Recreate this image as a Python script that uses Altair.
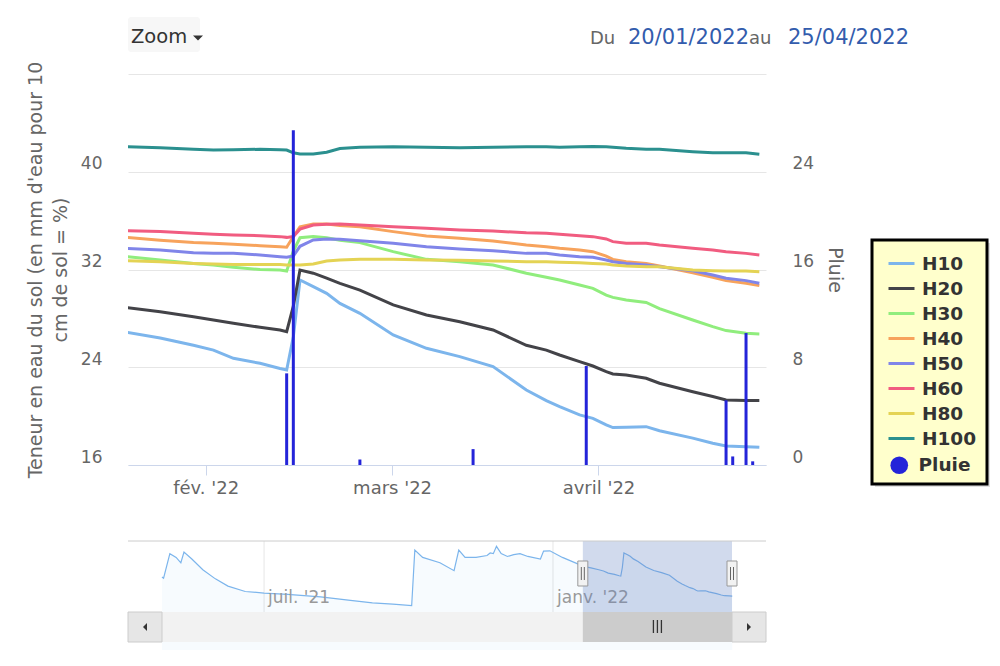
import json
import altair as alt
import pandas as pd

# ---------------- data ----------------
SERIES = ["H10", "H20", "H30", "H40", "H50", "H60", "H80", "H100"]
COLORS = ["#7cb5ec", "#434348", "#90ed7d", "#f7a35c", "#8085e9", "#f15c80", "#e4d354", "#2b908f"]
RAIN_NAME = "Pluie"
RAIN_COLOR = "#2424d9"

dates = ["2022-01-20", "2022-01-25", "2022-01-30", "2022-02-02", "2022-02-05", "2022-02-09",
         "2022-02-12", "2022-02-13", "2022-02-14", "2022-02-15", "2022-02-17", "2022-02-19",
         "2022-02-21", "2022-02-24", "2022-03-01", "2022-03-06", "2022-03-11", "2022-03-16",
         "2022-03-21", "2022-03-24", "2022-03-26", "2022-03-29", "2022-03-31", "2022-04-02",
         "2022-04-03", "2022-04-05", "2022-04-08", "2022-04-10", "2022-04-15", "2022-04-18",
         "2022-04-20", "2022-04-23", "2022-04-25"]

H10 = [26.86, 26.4, 25.8, 25.4, 24.73, 24.32, 23.9, 23.78, 26.5, 31.14, 30.6, 30.05,
       29.23, 28.41, 26.64, 25.55, 24.87, 24.05, 22.14, 21.27, 20.78, 20.1, 19.82, 19.28,
       19.06, 19.09, 19.14, 18.8, 18.2, 17.78, 17.56, 17.5, 17.45]
H20 = [28.88, 28.55, 28.14, 27.87, 27.6, 27.27, 27.05, 26.91, 29.0, 31.96, 31.7, 31.3,
       30.87, 30.32, 29.1, 28.28, 27.73, 27.05, 25.8, 25.4, 25.0, 24.46, 24.1, 23.64,
       23.45, 23.37, 23.1, 22.69, 22.0, 21.6, 21.32, 21.27, 21.27]
H30 = [33.05, 32.78, 32.5, 32.37, 32.18, 32.0, 31.96, 31.88, 33.5, 34.6, 34.7, 34.6,
       34.4, 34.2, 33.46, 32.83, 32.64, 32.37, 31.7, 31.36, 31.14, 30.73, 30.46, 29.9,
       29.72, 29.5, 29.3, 28.8, 27.87, 27.32, 27.0, 26.78, 26.73]
H40 = [34.63, 34.4, 34.2, 34.14, 34.06, 33.95, 33.87, 33.82, 34.7, 35.5, 35.72, 35.72,
       35.6, 35.5, 35.1, 34.74, 34.55, 34.33, 34.0, 33.87, 33.73, 33.6, 33.46, 33.1,
       32.83, 32.64, 32.5, 32.28, 31.74, 31.36, 31.09, 30.87, 30.68]
H50 = [33.73, 33.6, 33.38, 33.32, 33.32, 33.19, 33.05, 33.0, 33.1, 33.9, 34.42, 34.5,
       34.47, 34.36, 34.14, 33.87, 33.68, 33.54, 33.32, 33.32, 33.19, 33.05, 33.0, 32.78,
       32.64, 32.5, 32.37, 32.23, 31.9, 31.55, 31.28, 31.09, 30.87]
H60 = [35.18, 35.1, 34.96, 34.88, 34.83, 34.77, 34.69, 34.63, 34.7, 35.3, 35.64, 35.7,
       35.72, 35.64, 35.5, 35.37, 35.23, 35.15, 35.0, 34.96, 34.88, 34.77, 34.69, 34.5,
       34.28, 34.14, 34.14, 34.0, 33.73, 33.6, 33.46, 33.32, 33.19]
H80 = [32.72, 32.64, 32.5, 32.45, 32.4, 32.4, 32.4, 32.37, 32.37, 32.37, 32.45, 32.7,
       32.78, 32.83, 32.83, 32.78, 32.75, 32.7, 32.64, 32.64, 32.6, 32.56, 32.5, 32.45,
       32.37, 32.28, 32.23, 32.23, 31.96, 31.9, 31.88, 31.88, 31.82]
H100 = [42.05, 41.97, 41.84, 41.78, 41.8, 41.84, 41.8, 41.78, 41.55, 41.45, 41.45, 41.6,
        41.9, 42.0, 42.05, 42.0, 41.97, 42.0, 42.05, 42.05, 42.0, 42.05, 42.07, 42.05,
        42.0, 41.92, 41.84, 41.84, 41.64, 41.55, 41.55, 41.55, 41.43]

rain_dates = ["2022-02-13", "2022-02-14", "2022-02-24", "2022-03-13", "2022-03-30",
              "2022-04-20", "2022-04-21", "2022-04-23", "2022-04-24"]
rain_mm = [7.5, 27.4, 0.45, 1.3, 8.1, 5.3, 0.7, 10.8, 0.3]

# navigator (H10 over the whole record, before the zoomed window)
nav_dates = ["2021-04-27", "2021-04-28", "2021-05-02", "2021-05-06", "2021-05-09", "2021-05-11",
             "2021-05-16", "2021-05-23", "2021-05-31", "2021-06-08", "2021-06-19", "2021-07-01",
             "2021-07-16", "2021-08-06", "2021-08-25", "2021-09-08", "2021-09-21", "2021-10-03",
             "2021-10-05", "2021-10-10", "2021-10-21", "2021-10-30", "2021-11-02", "2021-11-06",
             "2021-11-13", "2021-11-20", "2021-11-22", "2021-11-24", "2021-11-26", "2021-11-29",
             "2021-12-03", "2021-12-07", "2021-12-11", "2021-12-16", "2021-12-24", "2021-12-26",
             "2021-12-30", "2022-01-07", "2022-01-16"]
nav_h10 = [23.5, 23.1, 30.9, 29.7, 28.0, 31.4, 29.2, 25.8, 22.9, 20.6, 18.9, 18.4,
           18.0, 17.2, 16.1, 15.3, 14.9, 14.4, 32.0, 29.7, 28.0, 25.5, 32.0, 29.7,
           29.7, 30.3, 31.1, 30.9, 33.2, 30.9, 30.0, 30.6, 30.9, 30.0, 29.2, 31.7,
           31.8, 29.7, 27.8]

x_ticks = ["2022-02-01", "2022-03-01", "2022-04-01"]
month_names = ["janv.", "fév.", "mars", "avril", "mai", "juin", "juil.", "août",
               "sept.", "oct.", "nov.", "déc."]
nav_ticks = ["2021-07-01", "2022-01-01"]
nav_tick_labels = ["juil. '21", "janv. '22"]
sel_start, sel_end = "2022-01-20", "2022-04-25"
left_ticks = [16, 24, 32, 40, 48]
right_ticks = [0, 8, 16, 24, 32]

FONT = "DejaVu Sans"
TXT = "#666666"


def dt(s, h=0):
    y, m, d = (int(p) for p in s.split("-"))
    return alt.DateTime(year=y, month=m, date=d, hours=h)


# ---------------- tables ----------------
rows = []
for name, vals in zip(SERIES, [H10, H20, H30, H40, H50, H60, H80, H100]):
    for d, v in zip(dates, vals):
        rows.append({"date": d + "T04:00:00", "series": name, "value": v})
lines_df = pd.DataFrame(rows)
rain_df = pd.DataFrame({"date": [d + "T04:00:00" for d in rain_dates], "mm": rain_mm,
                        "series": RAIN_NAME})
nav_df = pd.DataFrame({"date": [d + "T00:00:00" for d in nav_dates] + [d + "T04:00:00" for d in dates],
                       "value": nav_h10 + H10})
navtick_df = pd.DataFrame({"date": nav_ticks, "label": nav_tick_labels})
sel_df = pd.DataFrame({"start": [sel_start], "end": [sel_end]})
t0 = pd.Timestamp(sel_start)
t1 = pd.Timestamp(sel_end)
mid = (t0 + (t1 - t0) / 2).strftime("%Y-%m-%dT%H:%M:%S")
handles_df = pd.DataFrame({"date": [sel_start, sel_end]})
thumbmid_df = pd.DataFrame({"date": [mid]})
ONE = pd.DataFrame({"a": [0]})

# ---------------- scales / axes ----------------
x_scale = alt.Scale(domain=[dt("2022-01-20", 8), dt("2022-04-26", 4)], nice=False, padding=0)
label_expr = json.dumps(month_names) + "[month(datum.value)] + \" '\" + timeFormat(datum.value, '%y')"
x_axis = alt.Axis(values=[dt(s) for s in x_ticks], labelExpr=label_expr, grid=False,
                  domainColor="#ccd6eb", tickColor="#ccd6eb", tickSize=10, labelPadding=4,
                  labelFontSize=18, labelColor=TXT, labelFont=FONT, title=None)

line_legend = alt.Legend(
    title=None, orient="none", legendX=759, legendY=175, padding=0,
    labelFont=FONT, labelFontSize=18.5, labelFontWeight="bold", labelColor="#333333",
    symbolType="stroke", symbolSize=676, symbolStrokeWidth=3, symbolOpacity=1,
    labelOffset=6, rowPadding=1,
)
rain_legend = alt.Legend(
    title=None, orient="none", legendX=762, legendY=382, padding=0,
    labelFont=FONT, labelFontSize=18.5, labelFontWeight="bold", labelColor="#333333",
    symbolType="circle", symbolSize=314, symbolStrokeWidth=0, symbolOpacity=1,
    labelOffset=10,
)

lines = alt.Chart(lines_df).mark_line(strokeWidth=3, clip=True).encode(
    x=alt.X("date:T", scale=x_scale, axis=x_axis),
    y=alt.Y("value:Q", scale=alt.Scale(domain=[16, 48], nice=False, zero=False),
            axis=alt.Axis(orient="left", values=left_ticks,
                          labelExpr="datum.value == 48 ? '' : datum.label",
                          grid=True, gridColor="#e6e6e6", domain=False, ticks=False,
                          labelPadding=26, labelFontSize=17, labelColor=TXT, labelFont=FONT,
                          labelBaseline="alphabetic", labelOffset=-3,
                          title=["Teneur en eau du sol (en mm d'eau pour 10", "cm de sol = %)"],
                          titleFont=FONT, titleFontSize=19, titleColor=TXT,
                          titleFontWeight="normal", titlePadding=10, titleLineHeight=25)),
    color=alt.Color("series:N", scale=alt.Scale(domain=SERIES, range=COLORS), legend=line_legend),
)

rain = alt.Chart(rain_df).mark_bar(size=3).encode(
    x=alt.X("date:T", scale=x_scale, axis=x_axis),
    y=alt.Y("mm:Q", scale=alt.Scale(domain=[0, 32], nice=False),
            axis=alt.Axis(orient="right", values=right_ticks,
                          labelExpr="datum.value == 32 ? '' : datum.label",
                          grid=False, domain=False, ticks=False,
                          labelPadding=26, labelFontSize=17, labelColor=TXT, labelFont=FONT,
                          labelBaseline="alphabetic", labelOffset=-3,
                          title="Pluie", titleFont=FONT, titleFontSize=19, titleColor=TXT,
                          titleFontWeight="normal", titlePadding=11)),
    fill=alt.Fill("series:N", scale=alt.Scale(domain=[RAIN_NAME], range=[RAIN_COLOR]),
                  legend=rain_legend),
)


def deco_text(txt, x, y, color, size, align="left", weight="normal"):
    return alt.Chart(ONE).mark_text(text=txt, align=align, baseline="alphabetic", color=color,
                                    fontSize=size, font=FONT, fontWeight=weight).encode(
        x=alt.value(x), y=alt.value(y))


def deco_rect(x, x2, y, y2, **kw):
    return alt.Chart(ONE).mark_rect(**kw).encode(
        x=alt.value(x), x2=alt.value(x2), y=alt.value(y), y2=alt.value(y2))


zoom_btn = deco_rect(0, 72, -57, -22, color="#f7f7f7", cornerRadius=3)
zoom_arrow = alt.Chart(ONE).mark_point(shape="M-1,-0.5L1,-0.5L0,0.5Z", filled=True, size=100,
                                       color="#333333", opacity=1).encode(
    x=alt.value(70), y=alt.value(-36))
texts = [
    deco_text("Zoom", 3, -31, "#333333", 19.5),
    deco_text("Du", 462, -30, TXT, 18),
    deco_text("20/01/2022", 500, -30, "#335cad", 21),
    deco_text("au", 621, -30, TXT, 18),
    deco_text("25/04/2022", 660, -30, "#335cad", 21),
]
legend_shadow = deco_rect(747, 862, 169, 413, color="#000000", opacity=0.12)
legend_box = deco_rect(744, 859, 166, 410, fill="#ffffcc", stroke="#000000", strokeWidth=3)

main = alt.layer(lines, rain, zoom_btn, zoom_arrow, *texts, legend_shadow,
                 legend_box).resolve_scale(y="independent")

# ---------------- navigator ----------------
NAV_TOP, NAV_BOT, SB_BOT = 467, 538, 568
nav_x = alt.Scale(domain=[dt("2021-04-27"), dt("2022-04-25")], range=[34, 604], nice=False)
nav_y = alt.Scale(domain=[12.4, 34.9], range=[NAV_BOT, NAV_TOP], nice=False, zero=False)

nav_grid = alt.Chart(navtick_df).mark_rule(color="#e6e6e6", strokeWidth=1).encode(
    x=alt.X("date:T", scale=nav_x, axis=None), y=alt.value(NAV_TOP), y2=alt.value(NAV_BOT))
nav_area = alt.Chart(nav_df).mark_area(color="#7cb5ec", opacity=0.06).encode(
    x=alt.X("date:T", scale=nav_x, axis=None),
    y=alt.Y("value:Q", scale=nav_y, axis=None), y2=alt.value(NAV_BOT))
nav_line = alt.Chart(nav_df).mark_line(color="#7cb5ec", strokeWidth=1.2).encode(
    x=alt.X("date:T", scale=nav_x, axis=None),
    y=alt.Y("value:Q", scale=nav_y, axis=None))
nav_labels = alt.Chart(navtick_df).mark_text(align="left", baseline="alphabetic", dx=4,
                                             color="#999999", fontSize=17, font=FONT).encode(
    x=alt.X("date:T", scale=nav_x, axis=None), y=alt.value(529), text="label:N")
nav_mask = alt.Chart(sel_df).mark_rect(color="#6685c2", opacity=0.3).encode(
    x=alt.X("start:T", scale=nav_x, axis=None), x2="end:T",
    y=alt.value(NAV_TOP), y2=alt.value(NAV_BOT))
nav_outline = alt.Chart(ONE).mark_rule(color="#cccccc", strokeWidth=1).encode(
    x=alt.value(0), x2=alt.value(638), y=alt.value(NAV_TOP))

sb_track = deco_rect(0, 638, NAV_BOT, SB_BOT, color="#f2f2f2")
sb_left = deco_rect(0, 34, NAV_BOT, SB_BOT, fill="#e6e6e6", stroke="#cccccc", strokeWidth=1)
sb_right = deco_rect(604, 638, NAV_BOT, SB_BOT, fill="#e6e6e6", stroke="#cccccc", strokeWidth=1)
sb_thumb = alt.Chart(sel_df).mark_rect(color="#cccccc").encode(
    x=alt.X("start:T", scale=nav_x, axis=None), x2="end:T",
    y=alt.value(NAV_BOT), y2=alt.value(SB_BOT))
arrow_l = alt.Chart(ONE).mark_point(shape="M0.5,-1L0.5,1L-0.5,0Z", filled=True, size=64,
                                    color="#333333", opacity=1).encode(
    x=alt.value(17), y=alt.value(553))
arrow_r = alt.Chart(ONE).mark_point(shape="M-0.5,-1L-0.5,1L0.5,0Z", filled=True, size=64,
                                    color="#333333", opacity=1).encode(
    x=alt.value(621), y=alt.value(553))
thumb_lines = [
    alt.Chart(thumbmid_df).mark_rule(color="#333333", strokeWidth=1.3, xOffset=o).encode(
        x=alt.X("date:T", scale=nav_x, axis=None), y=alt.value(546), y2=alt.value(559))
    for o in (-4, 0, 4)
]
handles = alt.Chart(handles_df).mark_rect(fill="#f2f2f2", stroke="#999999", strokeWidth=1,
                                          xOffset=-5, x2Offset=5).encode(
    x=alt.X("date:T", scale=nav_x, axis=None), x2="date:T",
    y=alt.value(487), y2=alt.value(512))
handle_lines = [
    alt.Chart(handles_df).mark_rule(color="#666666", strokeWidth=1, xOffset=o).encode(
        x=alt.X("date:T", scale=nav_x, axis=None), y=alt.value(493), y2=alt.value(506))
    for o in (-1.5, 1.5)
]

nav = alt.layer(nav_grid, nav_area, nav_line, nav_labels, nav_mask, nav_outline,
                sb_track, sb_left, sb_right, sb_thumb, arrow_l, arrow_r, *thumb_lines,
                handles, *handle_lines)

chart = alt.layer(main, nav).resolve_scale(x="independent", y="independent").properties(
    width=638, height=391,
    background="white",
    autosize=alt.AutoSizeParams(type="none"),
    padding={"left": 120, "top": 66, "right": 226, "bottom": 185},
).configure_view(strokeWidth=0, stroke="transparent")

chart.save("out.html", embed_options={"renderer": "svg", "actions": False})
